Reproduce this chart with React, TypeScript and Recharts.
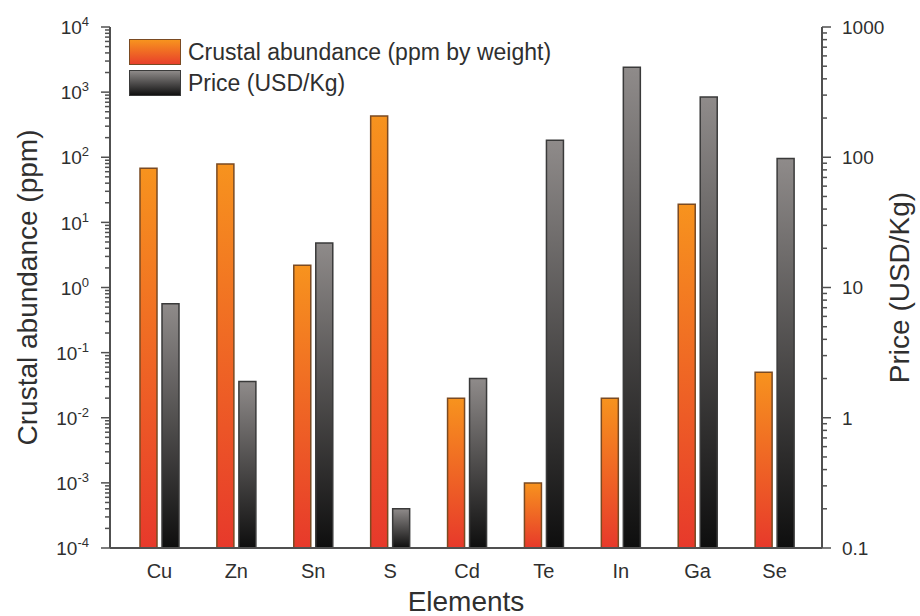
import { Bar, BarChart, XAxis, YAxis } from "recharts";

const elements = ["Cu", "Zn", "Sn", "S", "Cd", "Te", "In", "Ga", "Se"];
const crustalAbundance = [68, 79, 2.2, 430, 0.02, 0.001, 0.02, 19, 0.05];
const priceUsdPerKg = [7.5, 1.9, 22, 0.2, 2.0, 135, 490, 290, 98];

const leftMajorTicks = [1e-4, 1e-3, 1e-2, 1e-1, 1, 10, 100, 1000, 10000];
const rightMajorTicks = [0.1, 1, 10, 100, 1000];
const rightTickLabels = ["0.1", "1", "10", "100", "1000"];
const minorSteps = [2, 3, 4, 5, 6, 7, 8, 9];

const FONT = "'Liberation Sans', Arial, Helvetica, sans-serif";
const TEXT = "#2f2f2f";
const AXIS = "#505050";

const withMinors = (majors: number[]) => {
  const out: number[] = [];
  majors.forEach((m, i) => {
    out.push(m);
    if (i < majors.length - 1) minorSteps.forEach((s) => out.push(m * s));
  });
  return out;
};

const isMajor = (majors: number[], v: number) => majors.some((t) => Math.abs(t - v) / t < 1e-6);

const data = elements.map((name, i) => ({
  name,
  abundance: crustalAbundance[i],
  price: priceUsdPerKg[i],
}));

const LeftTick = ({ x, y, payload }: any) => {
  const major = isMajor(leftMajorTicks, payload.value);
  const exp = Math.round(Math.log10(payload.value));
  return (
    <g>
      <line x1={x} x2={x - (major ? 9 : 5)} y1={y} y2={y} stroke={AXIS} strokeWidth={1.5} />
      {major && (
        <text x={x - 21} y={y} dy="0.38em" textAnchor="end" fill={TEXT} fontSize={19} fontFamily={FONT}>
          10
          <tspan dy={-8} fontSize={13}>
            {exp < 0 ? `-${-exp}` : `${exp}`}
          </tspan>
        </text>
      )}
    </g>
  );
};

const RightTick = ({ x, y, payload }: any) => {
  const idx = rightMajorTicks.findIndex((t) => Math.abs(t - payload.value) / t < 1e-6);
  const major = idx >= 0;
  return (
    <g>
      <line x1={x} x2={x + (major ? 9 : 5)} y1={y} y2={y} stroke={AXIS} strokeWidth={1.5} />
      {major && (
        <text x={x + 20} y={y} dy="0.36em" textAnchor="start" fill={TEXT} fontSize={19} fontFamily={FONT}>
          {rightTickLabels[idx]}
        </text>
      )}
    </g>
  );
};

const LeftTitle = ({ viewBox }: any) => {
  const cx = viewBox.x + 27;
  const cy = viewBox.y + viewBox.height / 2;
  return (
    <text x={cx} y={cy} transform={`rotate(-90 ${cx} ${cy})`} textAnchor="middle" dy="0.36em" fill={TEXT} fontSize={28} fontFamily={FONT}>
      Crustal abundance (ppm)
    </text>
  );
};

const RightTitle = ({ viewBox }: any) => {
  const cx = viewBox.x + viewBox.width - 21;
  const cy = viewBox.y + viewBox.height / 2;
  return (
    <text x={cx} y={cy} transform={`rotate(-90 ${cx} ${cy})`} textAnchor="middle" dy="0.36em" fill={TEXT} fontSize={28} fontFamily={FONT}>
      Price (USD/Kg)
    </text>
  );
};

const BottomTitle = ({ viewBox }: any) => (
  <text x={viewBox.x + viewBox.width / 2} y={viewBox.y + viewBox.height - 5} textAnchor="middle" fill={TEXT} fontSize={28} fontFamily={FONT}>
    Elements
  </text>
);

const legendItems = [
  { label: "Crustal abundance (ppm by weight)", bg: "linear-gradient(#f7931e, #e8402b)", border: "#7a4a22" },
  { label: "Price (USD/Kg)", bg: "linear-gradient(#8e8a89, #111111)", border: "#3a3a3a" },
];

const LegendBox = () => (
  <div style={{ position: "absolute", left: 129, top: 36, fontFamily: FONT, color: TEXT }}>
    {legendItems.map((it) => (
      <div key={it.label} style={{ display: "flex", alignItems: "center", height: 31 }}>
        <div style={{ width: 50, height: 24, background: it.bg, border: `1.5px solid ${it.border}`, marginRight: 7 }} />
        <span style={{ fontSize: 23, lineHeight: "26px" }}>{it.label}</span>
      </div>
    ))}
  </div>
);

export default function App() {
  return (
    <div style={{ position: "absolute", left: 0, top: 0, width: 920, height: 616, background: "#fff" }}>
      <BarChart width={920} height={616} data={data} margin={{ top: 27, right: 0, bottom: 0, left: 0 }} barGap={5} barSize={17}>
        <defs>
          <linearGradient id="orangeGrad" x1="0" y1="0" x2="0" y2="1">
            <stop offset="0%" stopColor="#f7931e" />
            <stop offset="100%" stopColor="#e7392b" />
          </linearGradient>
          <linearGradient id="grayGrad" x1="0" y1="0" x2="0" y2="1">
            <stop offset="0%" stopColor="#8f8b8a" />
            <stop offset="100%" stopColor="#0e0e0e" />
          </linearGradient>
        </defs>
        <XAxis
          dataKey="name"
          padding={{ left: 11, right: 9 }}
          height={68}
          tickLine={false}
          tickSize={0}
          tickMargin={16}
          tick={{ fill: TEXT, fontSize: 20, fontFamily: FONT }}
          axisLine={{ stroke: AXIS, strokeWidth: 2 }}
          label={{ content: BottomTitle }}
        />
        <XAxis
          xAxisId="top"
          orientation="top"
          dataKey="name"
          height={0}
          tick={false}
          tickLine={false}
          axisLine={{ stroke: AXIS, strokeWidth: 2 }}
        />
        <YAxis
          yAxisId="left"
          orientation="left"
          width={110}
          scale="log"
          domain={[1e-4, 1e4]}
          allowDataOverflow
          ticks={withMinors(leftMajorTicks)}
          interval={0}
          tickLine={false}
          tickSize={0}
          tickMargin={0}
          tick={LeftTick}
          axisLine={{ stroke: AXIS, strokeWidth: 2 }}
          label={{ content: LeftTitle }}
        />
        <YAxis
          yAxisId="right"
          orientation="right"
          width={98}
          scale="log"
          domain={[0.1, 1000]}
          allowDataOverflow
          ticks={withMinors(rightMajorTicks)}
          interval={0}
          tickLine={false}
          tickSize={0}
          tickMargin={0}
          tick={RightTick}
          axisLine={{ stroke: AXIS, strokeWidth: 2 }}
          label={{ content: RightTitle }}
        />
        <Bar
          yAxisId="left"
          dataKey="abundance"
          name="Crustal abundance (ppm by weight)"
          fill="url(#orangeGrad)"
          stroke="#7a4a22"
          strokeWidth={1.5}
          isAnimationActive={false}
        />
        <Bar
          yAxisId="right"
          dataKey="price"
          name="Price (USD/Kg)"
          fill="url(#grayGrad)"
          stroke="#3a3a3a"
          strokeWidth={1.5}
          isAnimationActive={false}
        />
      </BarChart>
      <LegendBox />
    </div>
  );
}
